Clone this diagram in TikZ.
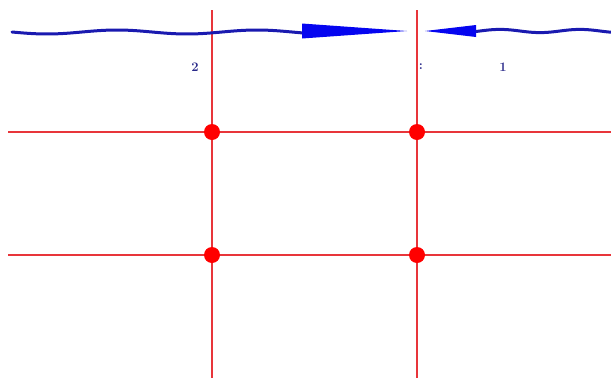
\documentclass[tikz,border=0pt]{standalone}
\usetikzlibrary{calc}
\definecolor{gridred}{HTML}{E8353A}
\definecolor{wavyblue}{HTML}{1A1AB0}
\definecolor{headblue}{HTML}{0505F0}
\definecolor{labelblue}{HTML}{2A2A8A}
\tikzset{
  gridline/.style={draw=gridred, line width=2.6pt},
  griddot/.style={circle, fill=red, inner sep=0pt, minimum size=16pt},
  wave/.style={draw=wavyblue, line width=3pt, line cap=round},
  head/.style={fill=headblue, draw=none},
  lbl/.style={text=labelblue, font=\fontsize{13}{13}\selectfont\bfseries, inner sep=0pt}
}
\begin{document}
\begin{tikzpicture}[x=1pt,y=-1pt]
\useasboundingbox (0,0) rectangle (611,378);
% grid coordinates
\coordinate (v1t) at (212,10);  \coordinate (v1b) at (212,378);
\coordinate (v2t) at (417,10);  \coordinate (v2b) at (417,378);
\coordinate (h1l) at (8,132);   \coordinate (h1r) at (611,132);
\coordinate (h2l) at (8,255);   \coordinate (h2r) at (611,255);
\draw[gridline] (v1t) -- (v1b);
\draw[gridline] (v2t) -- (v2b);
\draw[gridline] (h1l) -- (h1r);
\draw[gridline] (h2l) -- (h2r);
\node[griddot] (d11) at (212,132) {};
\node[griddot] (d21) at (417,132) {};
\node[griddot] (d12) at (212,255) {};
\node[griddot] (d22) at (417,255) {};
% left wavy arrow
\draw[wave] plot[domain=12:304, samples=80, smooth] (\x, {32+2*sin((\x-12)/140*360)});
\coordinate (tipL) at (407,31);
\fill[head] (302,23.5) -- (tipL) -- (302,38.5) -- cycle;
% right wavy arrow
\draw[wave] plot[domain=473:611, samples=60, smooth] (\x, {31-1.6*sin((\x-480)/80*360)});
\coordinate (tipR) at (425,31);
\fill[head] (476,25) -- (tipR) -- (476,37) -- cycle;
% labels
\node[lbl] (l2) at (195,67) {2};
\node[lbl] (lc) at (421,67) {:};
\node[lbl] (l1) at (503,67) {1};
\end{tikzpicture}
\end{document}
